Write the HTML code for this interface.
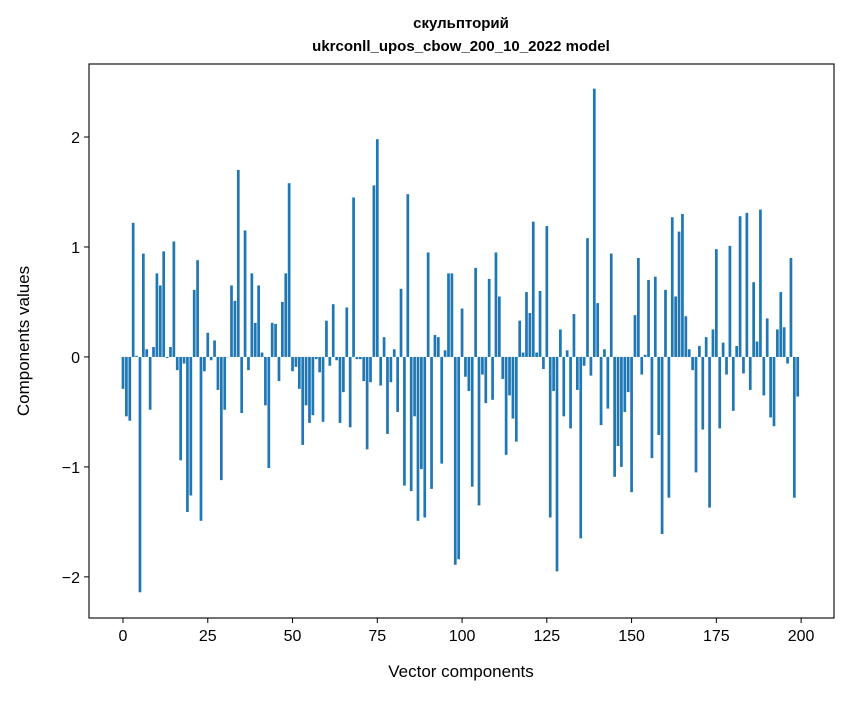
<!DOCTYPE html>
<html><head><meta charset="utf-8"><style>
body{margin:0;background:#fff;}
svg text{font-family:"Liberation Sans","DejaVu Sans",sans-serif;fill:#000;}
</style></head><body>
<svg id="chart" width="847" height="696" xmlns="http://www.w3.org/2000/svg">
<rect width="847" height="696" fill="#fff"/>
<text x="461" y="28" text-anchor="middle" font-size="15" font-weight="bold">скульпторий</text>
<text x="461" y="51" text-anchor="middle" font-size="15" font-weight="bold">ukrconll_upos_cbow_200_10_2022 model</text>
<g id="bars"></g>
<g id="axes"></g>
<text x="461" y="677" text-anchor="middle" font-size="17">Vector components</text>
<text transform="translate(29,341) rotate(-90)" text-anchor="middle" font-size="17">Components values</text>
</svg>
<script>
const values = [-0.29,-0.54,-0.58,1.22,0.01,-2.14,0.94,0.07,-0.48,0.09,0.76,0.65,0.96,-0.01,0.09,1.05,-0.12,-0.94,-0.06,-1.41,-1.26,0.61,0.88,-1.49,-0.13,0.22,
-0.03,0.15,-0.30,-1.12,-0.48,0.0,0.65,0.51,1.70,-0.51,1.15,-0.12,0.76,0.31,0.65,0.04,-0.44,-1.01,0.31,0.30,-0.22,0.50,0.76,1.58,
-0.13,-0.09,-0.29,-0.80,-0.44,-0.60,-0.53,-0.02,-0.14,-0.59,0.33,-0.08,0.48,-0.03,-0.60,-0.32,0.45,-0.64,1.45,-0.02,-0.02,-0.22,-0.84,-0.23,1.56,1.98,
-0.26,0.18,-0.70,-0.23,0.07,-0.50,0.62,-1.17,1.48,-1.22,-0.54,-1.49,-1.02,-1.46,0.95,-1.20,0.20,0.18,-0.97,0.06,0.76,0.76,-1.89,-1.84,
0.44,-0.18,-0.31,-1.18,0.81,-1.35,-0.16,-0.42,0.71,-0.39,0.95,0.55,-0.20,-0.89,-0.35,-0.56,-0.77,0.33,0.04,0.59,0.40,1.23,0.04,0.60,-0.11,
1.19,-1.46,-0.31,-1.95,0.25,-0.54,0.06,-0.65,0.39,-0.30,-1.65,-0.08,1.08,-0.17,2.44,0.49,-0.62,0.07,-0.47,0.94,-1.09,-0.81,-1.00,-0.50,-0.32,
-1.23,0.38,0.90,-0.16,0.02,0.70,-0.92,0.73,-0.71,-1.61,0.61,-1.28,1.27,0.55,1.14,1.30,0.37,0.07,-0.12,-1.05,0.10,-0.66,0.18,-1.37,0.25,
0.98,-0.65,0.13,-0.16,1.01,-0.49,0.10,1.28,-0.15,1.31,-0.30,0.68,0.14,1.34,-0.35,0.35,-0.55,-0.63,0.25,0.59,0.27,-0.06,0.90,-1.28,-0.36];
const xTicks = [0,25,50,75,100,125,150,175,200];
const yTicks = [-2,-1,0,1,2];
const yTickLabels = ["\u22122","\u22121","0","1","2"];

const L=89,R=834,T=64,B=618;
const xMin=-10.03,xMax=209.7,yMin=-2.374,yMax=2.664;
const sx=v=>L+(v-xMin)/(xMax-xMin)*(R-L);
const sy=v=>B-(v-yMin)/(yMax-yMin)*(B-T);
const NS="http://www.w3.org/2000/svg";
const bars=document.getElementById('bars');
values.forEach((v,i)=>{
  const r=document.createElementNS(NS,'rect');
  const x0=sx(i-0.4),x1=sx(i+0.4);
  const y0=sy(Math.max(v,0)),y1=sy(Math.min(v,0));
  r.setAttribute('x',x0);r.setAttribute('width',x1-x0);
  r.setAttribute('y',y0);r.setAttribute('height',Math.max(y1-y0,0.3));
  r.setAttribute('fill','#1f77b4');
  
  
  bars.appendChild(r);
});
const ax=document.getElementById('axes');
const frame=document.createElementNS(NS,'rect');
frame.setAttribute('x',L);frame.setAttribute('y',T);frame.setAttribute('width',R-L);frame.setAttribute('height',B-T);
frame.setAttribute('fill','none');frame.setAttribute('stroke','#000');frame.setAttribute('stroke-width','1.1');


ax.appendChild(frame);
xTicks.forEach(t=>{
  const x=sx(t);
  const l=document.createElementNS(NS,'line');
  l.setAttribute('x1',x);l.setAttribute('x2',x);l.setAttribute('y1',B);l.setAttribute('y2',B+5);l.setAttribute('stroke','#000');
  
  
  ax.appendChild(l);
  const tx=document.createElementNS(NS,'text');
  tx.setAttribute('x',x);tx.setAttribute('y',B+23);tx.setAttribute('text-anchor','middle');tx.setAttribute('font-size','16');
  tx.textContent=t;
  
  
  ax.appendChild(tx);
});
yTicks.forEach((t,k)=>{
  const y=sy(t);
  const l=document.createElementNS(NS,'line');
  l.setAttribute('x1',L-5);l.setAttribute('x2',L);l.setAttribute('y1',y);l.setAttribute('y2',y);l.setAttribute('stroke','#000');
  
  
  ax.appendChild(l);
  const tx=document.createElementNS(NS,'text');
  tx.setAttribute('x',L-9);tx.setAttribute('y',y+6);tx.setAttribute('text-anchor','end');tx.setAttribute('font-size','16');
  tx.textContent=yTickLabels[k];
  
  
  ax.appendChild(tx);
});
</script>
</body></html>
